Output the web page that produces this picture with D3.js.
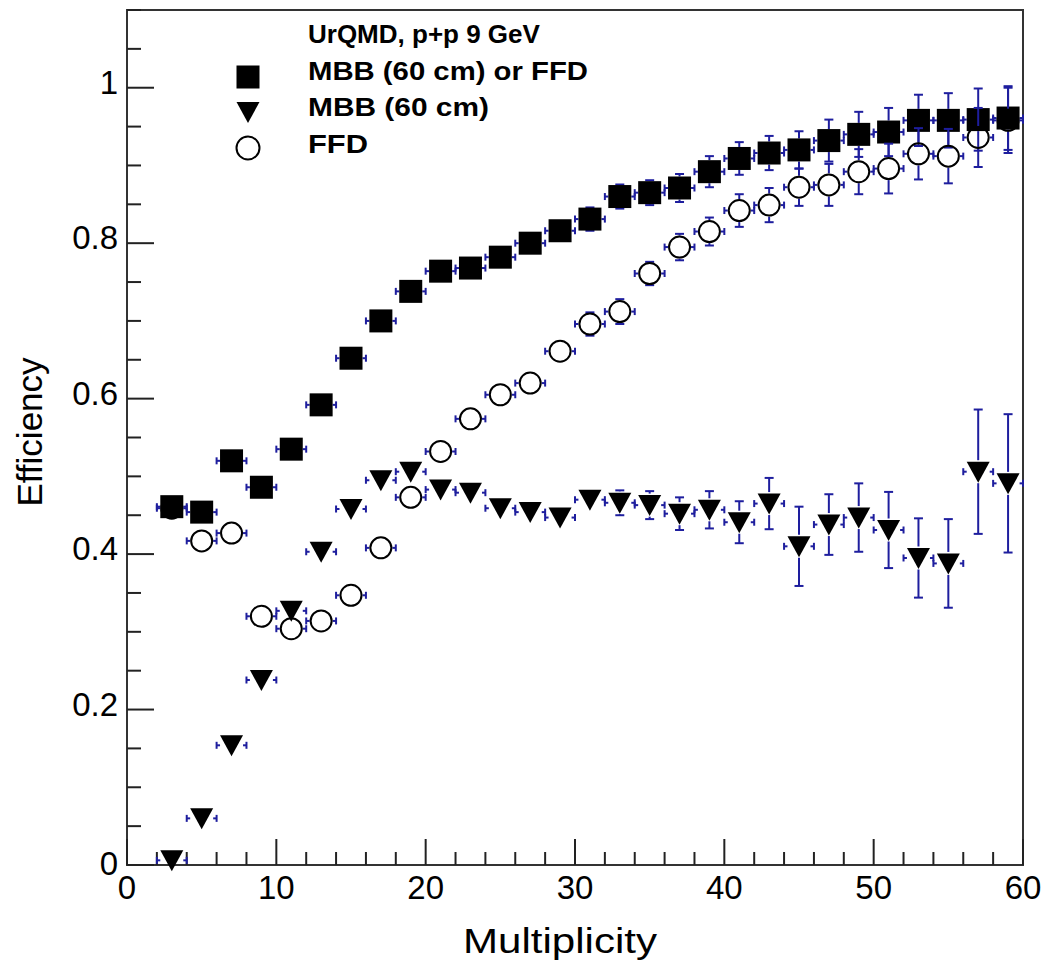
<!DOCTYPE html>
<html><head><meta charset="utf-8">
<script src="https://cdn.jsdelivr.net/npm/d3@7"></script>
<style>body{margin:0;background:#fff}</style>
</head><body><svg id="c" width="1048" height="966"></svg>
<script>
const multiplicity = [3,5,7,9,11,13,15,17,19,21,23,25,27,29,31,33,35,37,39,41,43,45,47,49,51,53,55,57,59];
const mbbOrFfd    = [0.461,0.454,0.520,0.486,0.535,0.592,0.652,0.700,0.738,0.764,0.768,0.782,0.800,0.816,0.831,0.860,0.865,0.871,0.892,0.909,0.916,0.920,0.932,0.940,0.943,0.958,0.958,0.959,0.961];
const mbbOrFfdErr = [0.006,0.006,0.007,0.007,0.008,0.008,0.009,0.009,0.009,0.010,0.010,0.011,0.011,0.012,0.015,0.0155,0.016,0.018,0.020,0.021,0.022,0.024,0.027,0.029,0.031,0.033,0.035,0.040,0.041];
const mbb         = [0.006,0.060,0.154,0.238,0.327,0.403,0.458,0.495,0.506,0.483,0.479,0.459,0.454,0.447,0.470,0.466,0.463,0.452,0.457,0.441,0.465,0.410,0.438,0.447,0.431,0.395,0.388,0.506,0.491];
const mbbErr      = [0.002,0.004,0.006,0.007,0.008,0.009,0.009,0.010,0.010,0.010,0.011,0.011,0.012,0.012,0.013,0.016,0.018,0.021,0.024,0.027,0.033,0.051,0.039,0.044,0.049,0.051,0.057,0.080,0.089];
const ffd         = [0.459,0.417,0.427,0.320,0.304,0.314,0.347,0.408,0.473,0.532,0.574,0.605,0.620,0.661,0.696,0.712,0.761,0.795,0.815,0.842,0.849,0.872,0.875,0.892,0.896,0.915,0.912,0.936,0.958];
const ffdErr      = [0.007,0.007,0.007,0.007,0.008,0.008,0.008,0.009,0.009,0.010,0.010,0.011,0.011,0.012,0.015,0.016,0.015,0.017,0.018,0.021,0.022,0.024,0.027,0.029,0.032,0.033,0.035,0.038,0.042];
const xTicks = [0,10,20,30,40,50,60];
const yTicks = [0,0.2,0.4,0.6,0.8,1];
const legendTitle = "UrQMD, p+p 9 GeV";
const legendLabels = ["MBB (60 cm) or FFD","MBB (60 cm)","FFD"];
const xTitle = "Multiplicity", yTitle = "Efficiency";

const svg = d3.select("#c");
const L=127,R=1023,T=10,B=865;
const x = d3.scaleLinear().domain([0,60]).range([L,R]);
const y = d3.scaleLinear().domain([0,1.1]).range([B,T]);
const font = "'Liberation Sans', Arial, Helvetica, sans-serif";
const errColor = "#1e1e9e";
const HALF = 11.5, binHalf = 1;

// frame
svg.append("rect").attr("x",L).attr("y",T).attr("width",R-L).attr("height",B-T)
  .attr("fill","none").attr("stroke","#333").attr("stroke-width",2);

// ticks
const yMinor = d3.range(0,1.1001,0.05);
svg.append("g").selectAll("line").data(yMinor).join("line")
  .attr("x1",L).attr("x2",d=>L+(Math.abs(d/0.2-Math.round(d/0.2))<1e-6?27:14))
  .attr("y1",d=>y(d)).attr("y2",d=>y(d)).attr("stroke","#222").attr("stroke-width",2);
const xMinor = d3.range(0,60.001,2);
svg.append("g").selectAll("line").data(xMinor).join("line")
  .attr("y1",B).attr("y2",d=>B-(d%10===0?26:13))
  .attr("x1",d=>x(d)).attr("x2",d=>x(d)).attr("stroke","#222").attr("stroke-width",2);

// tick labels
svg.append("g").selectAll("text").data(yTicks).join("text")
  .attr("x",118).attr("y",d=>y(d)+(d===0?10:6)).attr("text-anchor","end")
  .attr("font-family",font).attr("font-size",33).text(d=>d3.format("~g")(d));
svg.append("g").selectAll("text").data(xTicks).join("text")
  .attr("x",d=>x(d)).attr("y",899).attr("text-anchor","middle")
  .attr("font-family",font).attr("font-size",33).text(d=>d);

// titles
svg.append("text").attr("x",463).attr("y",953)
  .attr("font-family",font).attr("font-size",35)
  .attr("textLength",194).attr("lengthAdjust","spacingAndGlyphs").text(xTitle);
svg.append("text").attr("transform","translate(42,432) rotate(-90)").attr("text-anchor","middle")
  .attr("font-family",font).attr("font-size",35).text(yTitle);

// error bars
function errBars(vals, errs){
  const g = svg.append("g").attr("stroke",errColor).attr("stroke-width",2).attr("fill","none");
  multiplicity.forEach((m,i)=>{
    const cx=x(m), cy=y(vals[i]);
    const xl=x(m-binHalf), xr=x(m+binHalf);
    g.append("line").attr("x1",xl).attr("x2",cx-HALF).attr("y1",cy).attr("y2",cy);
    g.append("line").attr("x1",cx+HALF).attr("x2",xr).attr("y1",cy).attr("y2",cy);
    g.append("line").attr("x1",xl).attr("x2",xl).attr("y1",cy-3.5).attr("y2",cy+3.5);
    g.append("line").attr("x1",xr).attr("x2",xr).attr("y1",cy-3.5).attr("y2",cy+3.5);
    const yt=y(vals[i]+errs[i]), yb=y(vals[i]-errs[i]);
    if (cy-yt > HALF){
      g.append("line").attr("x1",cx).attr("x2",cx).attr("y1",yt).attr("y2",cy-HALF);
      g.append("line").attr("x1",cx).attr("x2",cx).attr("y1",cy+HALF).attr("y2",yb);
      g.append("line").attr("x1",cx-4.5).attr("x2",cx+4.5).attr("y1",yt).attr("y2",yt);
      g.append("line").attr("x1",cx-4.5).attr("x2",cx+4.5).attr("y1",yb).attr("y2",yb);
    }
  });
}
const tri = "M-11.5,-10L11.5,-10L0,11Z";

// squares
errBars(mbbOrFfd, mbbOrFfdErr);
svg.append("g").selectAll("rect").data(multiplicity).join("rect")
  .attr("x",(m)=>x(m)-HALF).attr("y",(m,i)=>y(mbbOrFfd[i])-HALF)
  .attr("width",23).attr("height",23).attr("fill","#000");
// triangles
errBars(mbb, mbbErr);
svg.append("g").selectAll("path").data(multiplicity).join("path")
  .attr("d",tri).attr("transform",(m,i)=>`translate(${x(m)},${y(mbb[i])})`).attr("fill","#000");
// circles
errBars(ffd, ffdErr);
svg.append("g").selectAll("circle").data(multiplicity).join("circle")
  .attr("cx",m=>x(m)).attr("cy",(m,i)=>y(ffd[i])).attr("r",10.5)
  .attr("fill","none").attr("stroke","#000").attr("stroke-width",2);

// legend
const lg = svg.append("g").attr("font-family",font).attr("font-weight","bold").attr("font-size",26);
lg.append("text").attr("x",308).attr("y",43).text(legendTitle);
const rowsY=[80,116,153], rowsW=[280,181,60];
legendLabels.forEach((t,i)=>lg.append("text").attr("x",308).attr("y",rowsY[i])
  .attr("textLength",rowsW[i]).attr("lengthAdjust","spacingAndGlyphs").text(t));
lg.append("rect").attr("x",248-HALF).attr("y",77-HALF).attr("width",23).attr("height",23).attr("fill","#000");
lg.append("path").attr("d",tri).attr("transform","translate(248,112)").attr("fill","#000");
lg.append("circle").attr("cx",248).attr("cy",148).attr("r",11.5).attr("fill","none").attr("stroke","#000").attr("stroke-width",2);
</script></body></html>
